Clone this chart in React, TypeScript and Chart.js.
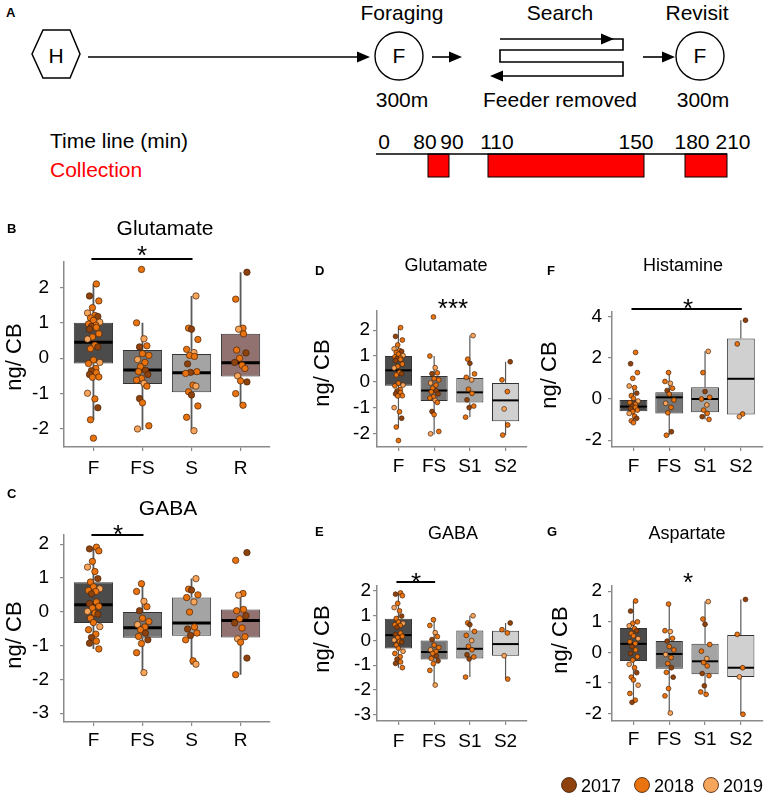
import React, { useEffect, useRef } from 'react';
import { Chart, registerables } from 'chart.js';
Chart.register(...registerables);

const FONT = '"Liberation Sans", Arial, Helvetica, sans-serif';

// ---------- categories ----------
const cats4 = ['F', 'FS', 'S', 'R'];
const catsSplit = ['F', 'FS', 'S1', 'S2'];

// ---------- Glutamate (ng/CB, z-scored) ----------
const gluF = [2.10, 1.76, 1.62, 1.43, 1.28, 1.21, 1.18, 1.14, 1.07, 1.02, 0.97, 0.93, 0.90, 0.87, 0.82, 0.69, 0.60, 0.54, 0.37, 0.32, 0.27, -0.05, -0.12, -0.15, -0.29, -0.35, -0.41, -0.46, -0.53, -0.54, -0.99, -1.15, -1.40, -1.74, -2.26];
const gluFS = [2.51, 1.0, 0.55, 0.35, 0.32, 0.13, 0.08, -0.04, -0.12, -0.24, -0.34, -0.38, -0.46, -0.57, -0.62, -0.71, -0.79, -1.14, -1.26, -1.91, -2.0];
const gluS = [1.76, 0.85, 0.82, 0.53, 0.25, 0.16, 0.08, 0.05, -0.16, -0.38, -0.40, -0.43, -0.76, -0.79, -0.95, -1.04, -1.35, -1.67, -2.05];
const gluR = [2.43, 1.67, 0.85, 0.82, 0.69, 0.23, 0.15, 0.0, -0.12, -0.20, -0.29, -0.50, -0.64, -0.67, -1.0, -1.33];
const gluS1 = [1.79, 0.88, 0.72, 0.31, 0.18, 0.08, -0.28, -0.44, -0.69, -0.93, -0.99, -1.36];
const gluS2 = [0.78, 0.08, -0.37, -1.04, -1.66, -2.05];
const gluQ1 = [-0.15, -0.73, -0.96, -0.52];
const gluMed = [0.45, -0.33, -0.41, -0.13];
const gluQ3 = [1.0, 0.23, 0.12, 0.69];
const gluLo = [-1.75, -2.03, -2.05, -1.33];
const gluHi = [2.10, 1.0, 1.76, 2.43];
const gluSplitQ1 = [-0.15, -0.73, -0.79, -1.52];
const gluSplitMed = [0.45, -0.33, -0.40, -0.71];
const gluSplitQ3 = [1.0, 0.23, 0.15, -0.04];
const gluSplitLo = [-1.75, -2.03, -1.36, -2.05];
const gluSplitHi = [2.10, 1.0, 1.79, 0.78];

// ---------- GABA ----------
const gabaF = [1.91, 1.86, 1.80, 1.49, 1.32, 1.19, 0.98, 0.88, 0.74, 0.68, 0.63, 0.60, 0.53, 0.29, 0.24, 0.16, 0.11, 0.01, -0.04, -0.07, -0.19, -0.32, -0.44, -0.53, -0.66, -0.76, -0.87, -0.93, -1.10];
const gabaFS = [0.83, 0.60, 0.31, 0.15, 0.03, -0.19, -0.29, -0.38, -0.45, -0.53, -0.63, -0.73, -0.83, -0.94, -1.21, -1.80];
const gabaS = [0.98, 0.67, 0.64, 0.50, 0.42, 0.29, -0.01, -0.45, -0.51, -0.63, -0.70, -0.83, -1.45, -1.55];
const gabaR = [1.75, 1.52, 0.54, 0.49, 0.07, 0.03, -0.12, -0.21, -0.33, -0.48, -0.74, -0.80, -0.90, -1.37, -1.86];
const gabaS1 = [0.99, 0.70, 0.63, 0.36, 0.20, -0.01, -0.24, -0.38, -0.58, -0.67, -0.75, -1.48];
const gabaS2 = [0.70, 0.43, 0.30, -0.62, -1.56];
const gabaQ1 = [-0.33, -0.77, -0.71, -0.76];
const gabaMed = [0.21, -0.47, -0.33, -0.26];
const gabaQ3 = [0.87, -0.01, 0.42, 0.07];
const gabaLo = [-1.10, -1.80, -1.57, -1.86];
const gabaHi = [1.91, 0.83, 0.98, 0.49];
const gabaSplitQ1 = [-0.33, -0.77, -0.73, -0.62];
const gabaSplitMed = [0.21, -0.47, -0.34, -0.15];
const gabaSplitQ3 = [0.87, -0.01, 0.40, 0.39];
const gabaSplitLo = [-1.10, -1.80, -1.48, -1.56];
const gabaSplitHi = [1.91, 0.83, 0.99, 0.70];

// ---------- Histamine ----------
const hisF = [2.26, 1.71, 1.28, 1.0, 0.63, 0.55, 0.28, 0.16, 0.03, -0.10, -0.18, -0.26, -0.34, -0.41, -0.47, -0.54, -0.62, -0.70, -0.83, -0.94, -1.06, -1.15];
const hisFS = [1.28, 0.85, 0.76, 0.52, 0.41, 0.24, -0.05, -0.21, -0.41, -0.67, -1.59, -1.76];
const hisS1 = [2.31, 1.28, 0.36, 0.08, 0.0, -0.29, -0.54, -0.70, -0.86, -0.99];
const hisS2 = [3.82, 2.67, -0.73, -0.86];
const hisQ1 = [-0.59, -0.70, -0.65, -0.75];
const hisMed = [-0.37, 0.08, 0.0, 0.98];
const hisQ3 = [-0.05, 0.33, 0.57, 2.94];
const hisLo = [-1.19, -1.76, -0.99, -0.86];
const hisHi = [0.63, 1.28, 2.31, 3.82];

// ---------- Aspartate ----------
const aspF = [1.68, 1.35, 1.0, 0.95, 0.87, 0.78, 0.71, 0.62, 0.54, 0.45, 0.35, 0.29, 0.19, 0.08, -0.03, -0.14, -0.25, -0.39, -0.50, -0.66, -0.81, -0.90, -1.07, -1.34, -1.56, -1.63];
const aspFS = [1.58, 0.71, 0.68, 0.46, 0.37, 0.19, 0.08, -0.07, -0.17, -0.36, -0.50, -0.65, -0.81, -1.18, -1.42, -1.98];
const aspS1 = [1.66, 1.09, 0.92, 0.26, 0.04, -0.20, -0.33, -0.44, -0.69, -0.76, -1.09, -1.29, -1.37];
const aspS2 = [1.73, 0.59, -0.50, -0.80, -2.02];
const aspQ1 = [-0.28, -0.53, -0.71, -0.80];
const aspMed = [0.28, -0.05, -0.29, -0.50];
const aspQ3 = [0.80, 0.37, 0.28, 0.57];
const aspLo = [-1.63, -1.98, -1.37, -2.02];
const aspHi = [1.68, 1.58, 1.66, 1.73];

// ---------- timeline (panel A) ----------
const timeTicks = ['0', '80', '90', '110', '150', '180', '210'];
const collectWindows = [[80, 90], [110, 150], [180, 210]];
const years = ['2017', '2018', '2019'];

// ---------- styles ----------
const YEAR_COLORS = ['#8e420d', '#e8730f', '#f6a55c'];
const YEAR_CYCLE = [1, 0, 1, 1, 2, 1, 0, 1, 1, 2, 1, 1, 0];
const JITTER = [0.06, -0.08, 0.11, -0.02, -0.12, 0.03, 0.09, -0.06, 0.0, 0.13, -0.1, 0.05, -0.04];
const BOX_COLORS: Record<string, string> = { F: '#4b4b4b', FS: '#757575', S: '#a4a4a4', S1: '#a4a4a4', S2: '#d0d0d0', R: '#927171' };
// schematic x-positions of the timeline marks (layout)
const TIME_X: Record<number, number> = { 0: 376, 80: 428, 90: 449, 110: 488, 150: 644, 180: 685, 210: 727 };
const TIME_LABEL_X = [384, 425, 452, 497, 636, 692, 733];

type Panel = {
  letter: string; letterXY: [number, number];
  title: string; titleXY: [number, number]; titleSize: number;
  ylabXY: [number, number];
  area: [number, number, number, number];
  ymin: number; ymax: number; step: number;
  cats: string[]; groups: number[][];
  q1: number[]; med: number[]; q3: number[]; lo: number[]; hi: number[];
  boxW: number; tickSize: number; padY: number; padX: number;
  pointR: number; medW: number; whiskW: number;
  sig?: [number, number, number];
  stars: string; starXY: [number, number];
};

const PANELS: Panel[] = [
  {
    letter: 'B', letterXY: [7, 233], title: 'Glutamate', titleXY: [165, 235], titleSize: 21, ylabXY: [21, 357],
    area: [64, 262, 270, 447], ymin: -2.51, ymax: 2.72, step: 1,
    cats: cats4, groups: [gluF, gluFS, gluS, gluR], q1: gluQ1, med: gluMed, q3: gluQ3, lo: gluLo, hi: gluHi,
    boxW: 0.8, tickSize: 19, padY: 11, padX: 6, pointR: 3.2, medW: 3, whiskW: 1.8,
    sig: [0, 2, 259], stars: '*', starXY: [142, 249],
  },
  {
    letter: 'C', letterXY: [7, 498], title: 'GABA', titleXY: [168, 515], titleSize: 21, ylabXY: [21, 635],
    area: [64, 535, 270, 722], ymin: -3.26, ymax: 2.27, step: 1,
    cats: cats4, groups: [gabaF, gabaFS, gabaS, gabaR], q1: gabaQ1, med: gabaMed, q3: gabaQ3, lo: gabaLo, hi: gabaHi,
    boxW: 0.8, tickSize: 19, padY: 11, padX: 3, pointR: 3.2, medW: 3, whiskW: 1.8,
    sig: [0, 1, 535], stars: '*', starXY: [118, 528],
  },
  {
    letter: 'D', letterXY: [315, 275], title: 'Glutamate', titleXY: [446, 271], titleSize: 18, ylabXY: [329, 373],
    area: [377, 311, 527, 447], ymin: -2.51, ymax: 2.74, step: 1,
    cats: catsSplit, groups: [gluF, gluFS, gluS1, gluS2], q1: gluSplitQ1, med: gluSplitMed, q3: gluSplitQ3, lo: gluSplitLo, hi: gluSplitHi,
    boxW: 0.76, tickSize: 19, padY: 3, padX: 4, pointR: 2.4, medW: 2, whiskW: 1.2,
    stars: '***', starXY: [453, 302],
  },
  {
    letter: 'E', letterXY: [315, 536], title: 'GABA', titleXY: [453, 539], titleSize: 18, ylabXY: [329, 639],
    area: [377, 586, 527, 721], ymin: -3.25, ymax: 2.19, step: 1,
    cats: catsSplit, groups: [gabaF, gabaFS, gabaS1, gabaS2], q1: gabaSplitQ1, med: gabaSplitMed, q3: gabaSplitQ3, lo: gabaSplitLo, hi: gabaSplitHi,
    boxW: 0.76, tickSize: 19, padY: 2, padX: 5, pointR: 2.4, medW: 2, whiskW: 1.2,
    sig: [0, 1, 582], stars: '*', starXY: [416, 576],
  },
  {
    letter: 'F', letterXY: [547, 275], title: 'Histamine', titleXY: [683, 271], titleSize: 18, ylabXY: [556, 375],
    area: [612, 312, 763, 447], ymin: -2.33, ymax: 4.22, step: 2,
    cats: catsSplit, groups: [hisF, hisFS, hisS1, hisS2], q1: hisQ1, med: hisMed, q3: hisQ3, lo: hisLo, hi: hisHi,
    boxW: 0.78, tickSize: 19, padY: 6, padX: 4, pointR: 2.4, medW: 2, whiskW: 1.2,
    sig: [0, 3, 309], stars: '*', starXY: [688, 302],
  },
  {
    letter: 'G', letterXY: [547, 536], title: 'Aspartate', titleXY: [687, 539], titleSize: 18, ylabXY: [567, 640],
    area: [612, 586, 763, 721], ymin: -2.24, ymax: 2.17, step: 1,
    cats: catsSplit, groups: [aspF, aspFS, aspS1, aspS2], q1: aspQ1, med: aspMed, q3: aspQ3, lo: aspLo, hi: aspHi,
    boxW: 0.76, tickSize: 19, padY: 6, padX: 3, pointR: 2.4, medW: 2, whiskW: 1.2,
    stars: '*', starXY: [688, 576],
  },
];

const W = 767;
const H = 797;

function makeChart(canvas: HTMLCanvasElement, p: Panel) {
  const [L, T, R, B] = p.area;
  const yW = 40;
  const xH = 40;
  const datasets: any[] = p.groups.map((vals, gi) => ({
    type: 'scatter',
    data: vals.map((v, j) => ({ x: gi + JITTER[(j + gi * 3) % JITTER.length], y: v })),
    pointBackgroundColor: vals.map((_, j) => YEAR_COLORS[YEAR_CYCLE[(j + gi * 2) % YEAR_CYCLE.length]]),
    pointBorderColor: '#4a2207',
    pointBorderWidth: 0.7,
    pointRadius: p.pointR,
    order: 1,
  }));
  datasets.push({
    type: 'bar',
    data: p.cats.map((_, i) => ({ x: i, y: [p.q1[i], p.q3[i]] })),
    backgroundColor: p.cats.map((c) => BOX_COLORS[c]),
    borderColor: '#333333',
    borderWidth: 1,
    borderSkipped: false,
    barPercentage: p.boxW,
    categoryPercentage: 1,
    order: 2,
  });

  const boxParts = {
    id: 'boxParts',
    beforeDatasetsDraw(chart: any) {
      const { ctx, scales } = chart;
      ctx.save();
      ctx.strokeStyle = '#5a5a5a';
      ctx.lineWidth = p.whiskW;
      p.cats.forEach((_, i) => {
        const px = scales.x.getPixelForValue(i);
        ctx.beginPath();
        ctx.moveTo(px, scales.y.getPixelForValue(p.hi[i]));
        ctx.lineTo(px, scales.y.getPixelForValue(p.q3[i]));
        ctx.moveTo(px, scales.y.getPixelForValue(p.q1[i]));
        ctx.lineTo(px, scales.y.getPixelForValue(p.lo[i]));
        ctx.stroke();
      });
      ctx.restore();
    },
    afterDatasetDraw(chart: any, args: any) {
      if (args.meta.type !== 'bar') return;
      const { ctx, scales } = chart;
      ctx.save();
      ctx.strokeStyle = '#000';
      ctx.lineWidth = p.medW;
      args.meta.data.forEach((bar: any, i: number) => {
        const { x, width } = bar.getProps(['x', 'width'], true);
        const py = scales.y.getPixelForValue(p.med[i]);
        ctx.beginPath();
        ctx.moveTo(x - width / 2 + 0.5, py);
        ctx.lineTo(x + width / 2 - 0.5, py);
        ctx.stroke();
      });
      ctx.restore();
    },
    afterDraw(chart: any) {
      const { ctx, scales } = chart;
      ctx.save();
      ctx.fillStyle = '#000';
      ctx.textAlign = 'left';
      ctx.textBaseline = 'alphabetic';
      ctx.font = `bold 13px ${FONT}`;
      ctx.fillText(p.letter, p.letterXY[0], p.letterXY[1]);
      ctx.textAlign = 'center';
      ctx.font = `${p.titleSize}px ${FONT}`;
      ctx.fillText(p.title, p.titleXY[0], p.titleXY[1]);
      ctx.save();
      ctx.translate(p.ylabXY[0], p.ylabXY[1]);
      ctx.rotate(-Math.PI / 2);
      ctx.font = `22px ${FONT}`;
      ctx.fillText('ng/ CB', 0, 0);
      ctx.restore();
      if (p.sig) {
        const [a, b, yy] = p.sig;
        ctx.strokeStyle = '#000';
        ctx.lineWidth = 2;
        ctx.beginPath();
        ctx.moveTo(scales.x.getPixelForValue(a) - 2, yy);
        ctx.lineTo(scales.x.getPixelForValue(b) + 1, yy);
        ctx.stroke();
      }
      const sz = 26;
      ctx.font = `${sz}px ${FONT}`;
      ctx.fillText(p.stars, p.starXY[0], p.starXY[1] + 0.57 * sz);
      ctx.restore();
    },
  };

  const axisColor = '#8a8a8a';
  return new Chart(canvas, {
    type: 'bar',
    data: { datasets },
    plugins: [boxParts],
    options: {
      animation: false,
      responsive: false,
      events: [],
      layout: { padding: { left: L - yW, top: T, right: W - R, bottom: H - B - xH } },
      plugins: { legend: { display: false }, tooltip: { enabled: false }, title: { display: false } },
      scales: {
        x: {
          type: 'linear',
          min: -0.6,
          max: 3.6,
          offset: false,
          afterFit: (s: any) => { s.height = xH; },
          afterBuildTicks: (s: any) => { s.ticks = p.cats.map((_, i) => ({ value: i })); },
          grid: { display: true, drawOnChartArea: false, drawTicks: true, tickLength: 4, color: axisColor, lineWidth: 1.2, offset: false },
          border: { display: true, color: axisColor, width: 1.5 },
          ticks: {
            autoSkip: false, maxRotation: 0, padding: p.padX, color: '#000',
            font: { size: p.tickSize, family: FONT },
            callback: (v: any) => p.cats[Math.round(Number(v))] ?? '',
          },
        },
        y: {
          type: 'linear',
          min: p.ymin,
          max: p.ymax,
          afterFit: (s: any) => { s.width = yW; },
          grid: { display: true, drawOnChartArea: false, drawTicks: true, tickLength: 4, color: axisColor, lineWidth: 1.2 },
          border: { display: true, color: axisColor, width: 1.5 },
          ticks: {
            stepSize: p.step, includeBounds: false, padding: p.padY, color: '#000',
            font: { size: p.tickSize, family: FONT },
            callback: (v: any) => `${v}`,
          },
        },
      },
    } as any,
  });
}

function PanelChart({ p }: { p: Panel }) {
  const ref = useRef<HTMLCanvasElement>(null);
  useEffect(() => {
    const chart = makeChart(ref.current as HTMLCanvasElement, p);
    return () => chart.destroy();
  }, [p]);
  return <canvas ref={ref} width={W} height={H} style={{ position: 'absolute', left: 0, top: 0, width: W, height: H }} />;
}

function Arrow({ x1, x2, y }: { x1: number; x2: number; y: number }) {
  const dir = x2 > x1 ? 1 : -1;
  const base = x2 - dir * 13;
  return (
    <g>
      <line x1={x1} y1={y} x2={base} y2={y} stroke="#000" strokeWidth={1.6} />
      <polygon points={`${base},${y - 5.5} ${x2},${y} ${base},${y + 5.5}`} fill="#000" />
    </g>
  );
}

function Diagram() {
  const t = { fontFamily: FONT, fontSize: 21, fill: '#000' } as any;
  return (
    <svg width={W} height={190} style={{ position: 'absolute', left: 0, top: 0 }}>
      <text x={6} y={17} style={{ fontFamily: FONT, fontSize: 13, fontWeight: 'bold' }}>A</text>
      <polygon points="32,54 43,30 70,30 80,54 70,78 43,78" fill="none" stroke="#000" strokeWidth={1.5} />
      <text x={56} y={63} textAnchor="middle" style={t}>H</text>
      <Arrow x1={88} x2={370} y={57} />
      <circle cx={399} cy={56} r={24} fill="none" stroke="#000" strokeWidth={1.4} />
      <text x={399} y={63} textAnchor="middle" style={t}>F</text>
      <text x={402} y={20} textAnchor="middle" style={t}>Foraging</text>
      <text x={402} y={107} textAnchor="middle" style={t}>300m</text>
      <Arrow x1={432} x2={462} y={57} />
      <polyline points="500,39 623,39 623,50 500,50 500,62 623,62 623,76 500,76" fill="none" stroke="#000" strokeWidth={1.6} />
      <polygon points="601,33.5 614,39 601,44.5" fill="#000" />
      <polygon points="503,70.5 490,76 503,81.5" fill="#000" />
      <text x={560} y={20} textAnchor="middle" style={t}>Search</text>
      <text x={560} y={107} textAnchor="middle" style={t}>Feeder removed</text>
      <Arrow x1={643} x2={675} y={57} />
      <circle cx={700} cy={56} r={24} fill="none" stroke="#000" strokeWidth={1.4} />
      <text x={700} y={63} textAnchor="middle" style={t}>F</text>
      <text x={697} y={20} textAnchor="middle" style={t}>Revisit</text>
      <text x={703} y={107} textAnchor="middle" style={t}>300m</text>
      <text x={50} y={148} style={t}>Time line (min)</text>
      <text x={50} y={177} style={{ ...t, fill: '#ff0000' }}>Collection</text>
      {timeTicks.map((lab, i) => (
        <text key={lab} x={TIME_LABEL_X[i]} y={149} textAnchor="middle" style={t}>{lab}</text>
      ))}
      {collectWindows.map(([a, b]) => (
        <rect key={a} x={TIME_X[a]} y={154} width={TIME_X[b] - TIME_X[a]} height={23} fill="#ff0000" stroke="#000" strokeWidth={1} />
      ))}
      <line x1={TIME_X[0]} y1={154} x2={TIME_X[210]} y2={154} stroke="#000" strokeWidth={1.6} />
    </svg>
  );
}

function Legend() {
  const cx = [569, 642, 711];
  return (
    <svg width={W} height={30} style={{ position: 'absolute', left: 0, top: 770 }}>
      {years.map((y, i) => (
        <g key={y}>
          <circle cx={cx[i]} cy={15} r={7.5} fill={YEAR_COLORS[i]} stroke="#3d1c06" strokeWidth={0.8} />
          <text x={cx[i] + 12} y={22} style={{ fontFamily: FONT, fontSize: 18, fill: '#000' }}>{y}</text>
        </g>
      ))}
    </svg>
  );
}

export default function App() {
  return (
    <div style={{ position: 'absolute', left: 0, top: 0, width: W, height: H, background: '#fff', overflow: 'hidden' }}>
      <Diagram />
      {PANELS.map((p) => <PanelChart key={p.letter} p={p} />)}
      <Legend />
    </div>
  );
}
